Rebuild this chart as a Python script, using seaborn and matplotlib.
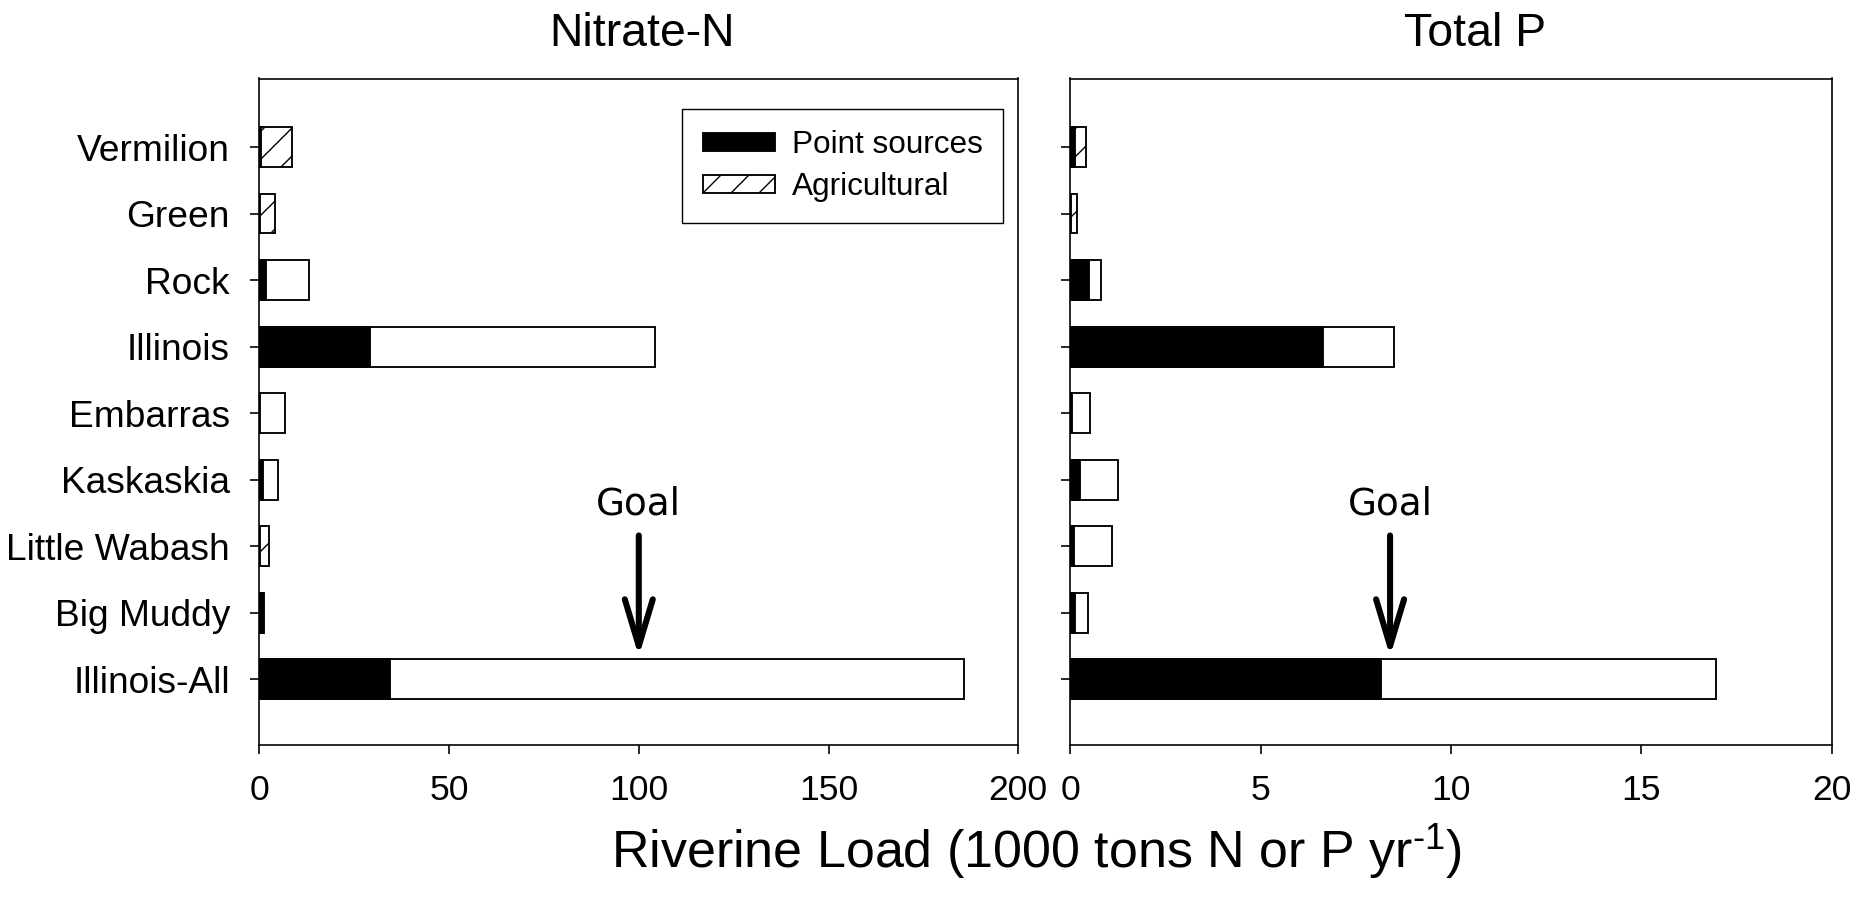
import numpy as np
import pandas as pd
import matplotlib
matplotlib.use("Agg")
import matplotlib.pyplot as plt
import seaborn as sns
from matplotlib.patches import Patch

# Riverine loads, 1000 tons per year
rivers = ["Vermilion", "Green", "Rock", "Illinois", "Embarras",
          "Kaskaskia", "Little Wabash", "Big Muddy", "Illinois-All"]
nitrate_point = [0.5, 0.2, 1.7, 29.3, 0.1, 1.0, 0.1, 1.1, 34.4]
nitrate_agri = [8.2, 4.0, 11.5, 75.1, 6.6, 3.8, 2.45, 0.05, 151.2]
phosphorus_point = [0.12, 0.02, 0.48, 6.63, 0.04, 0.25, 0.09, 0.12, 8.16]
phosphorus_agri = [0.29, 0.16, 0.33, 1.87, 0.47, 0.99, 1.00, 0.35, 8.81]
nitrate_goal = 100
phosphorus_goal = 8.4
nitrate_ticks = [0, 50, 100, 150, 200]
phosphorus_ticks = [0, 5, 10, 15, 20]

# which agricultural segments carry the diagonal fill
nitrate_hatched = [True, True, False, False, False, False, True, False, False]
phosphorus_hatched = [True, True, False, False, False, False, False, False, False]

DPI = 168
W, H = 1865, 912
HATCH = "//"

sns.set_style("ticks")
plt.rcParams.update({
    "hatch.linewidth": 0.6,
    "axes.linewidth": 0.7,
    "axes.edgecolor": "black",
    "text.color": "black",
    "axes.labelcolor": "black",
    "xtick.color": "black",
    "ytick.color": "black",
    "xtick.labelcolor": "black",
    "ytick.labelcolor": "black",
    "mathtext.fontset": "custom",
    "mathtext.rm": "Liberation Sans",
    "mathtext.it": "Liberation Sans:italic",
})
plt.rcParams["font.family"] = ["Liberation Sans", "DejaVu Sans"]

fig = plt.figure(figsize=(W / DPI, H / DPI), dpi=DPI)
ax_n = fig.add_axes([259.3 / W, 1 - 745 / H, 759.0 / W, 666.5 / H])
ax_p = fig.add_axes([1070.3 / W, 1 - 745 / H, 761.4 / W, 666.5 / H])


def draw_panel(ax, point, agri, hatched, goal, ticks, title, title_x):
    df = pd.DataFrame({"river": rivers,
                       "point": point,
                       "total": np.add(point, agri)})
    sns.barplot(data=df, x="total", y="river", order=rivers, color="white",
                edgecolor="black", linewidth=0.8, width=0.6, saturation=1,
                errorbar=None, ax=ax)
    for patch, flag in zip(ax.patches, hatched):
        if flag:
            patch.set_hatch(HATCH)
    sns.barplot(data=df, x="point", y="river", order=rivers, color="black",
                edgecolor="black", linewidth=0.8, width=0.6, saturation=1,
                errorbar=None, ax=ax)

    ax.set_xlim(ticks[0], ticks[-1])
    ax.set_xticks(ticks)
    ax.set_ylim(8.99, -1.03)
    ax.set_xlabel("")
    ax.set_ylabel("")
    ax.tick_params(axis="x", direction="out", length=4, width=0.7,
                   labelsize=15.2, pad=8.3)
    ax.tick_params(axis="y", direction="out", length=4, width=0.7,
                   labelsize=15.9, pad=8.6)
    for s in ax.spines.values():
        s.set_visible(True)
        s.set_linewidth(0.7)

    ax.text(title_x, 1 + 44.5 / 666.5, title, transform=ax.transAxes,
            ha="center", va="center", fontsize=19.9)

    # goal marker
    ax.annotate("", xy=(goal, 7.66), xytext=(goal, 5.84),
                arrowprops=dict(arrowstyle="->,head_length=20,head_width=6.0",
                                mutation_scale=1, lw=2.6, color="black",
                                shrinkA=0, shrinkB=0))
    ax.text(goal, 5.36, "Goal", ha="center", va="center", fontsize=16,
            family=["DejaVu Sans"])


draw_panel(ax_n, nitrate_point, nitrate_agri, nitrate_hatched,
           nitrate_goal, nitrate_ticks, "Nitrate-N", 0.504)
draw_panel(ax_p, phosphorus_point, phosphorus_agri, phosphorus_hatched,
           phosphorus_goal, phosphorus_ticks, "Total P", 0.532)
ax_p.tick_params(axis="y", labelleft=False)

handles = [Patch(facecolor="black", edgecolor="black", linewidth=0.8,
                 label="Point sources"),
           Patch(facecolor="white", edgecolor="black", linewidth=0.8,
                 hatch=HATCH, label="Agricultural")]
leg = ax_n.legend(handles=handles, loc="upper right",
                  bbox_to_anchor=(1003.3 / W, 1 - 109.3 / H),
                  bbox_transform=fig.transFigure, borderaxespad=0,
                  fontsize=13.5, frameon=True, fancybox=False,
                  edgecolor="black", framealpha=1, handlelength=2.28,
                  handleheight=0.5, handletextpad=0.55, borderpad=0.65,
                  labelspacing=0.4)
leg.get_frame().set_linewidth(0.6)

fig.text(1036 / W, 1 - 852 / H,
         r"Riverine Load (1000 tons N or P yr$^{\text{-}1}$)",
         ha="center", va="center", fontsize=22.3)

fig.savefig("out.png", dpi=DPI)
